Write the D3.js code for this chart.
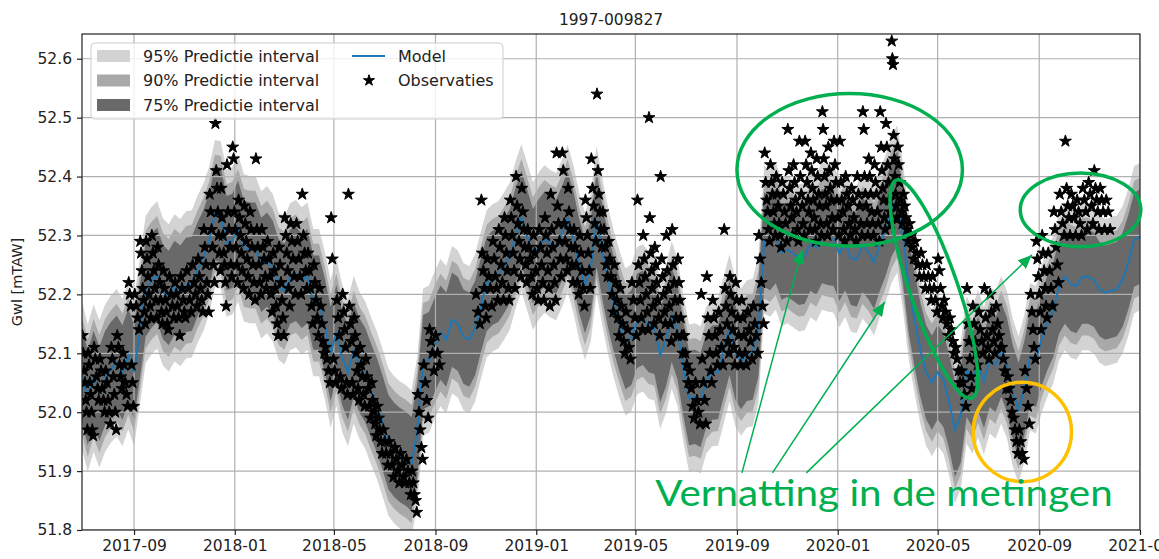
<!DOCTYPE html>
<html>
<head>
<meta charset="utf-8">
<script src="https://cdn.jsdelivr.net/npm/d3@7"></script>
<style>
  body { margin: 0; background: #fff; }
  svg { display: block; font-family: "DejaVu Sans", sans-serif; }
</style>
</head>
<body>
<svg id="chart"></svg>
<script>
// weekly series, first week starts on modelStart
const modelStart = '2017-06-30';
const stepDays = 7;

const modelValues = [
  52.063, 52.024, 52.058, 52.031, 52.058, 52.073, 52.084, 52.067, 52.096, 52.068,
  52.136, 52.208, 52.223, 52.233, 52.204, 52.194, 52.211, 52.203, 52.216, 52.218,
  52.243, 52.263, 52.292, 52.337, 52.335, 52.287, 52.291, 52.313, 52.279, 52.276,
  52.276, 52.250, 52.259, 52.245, 52.214, 52.206, 52.230, 52.235, 52.223, 52.231,
  52.186, 52.186, 52.147, 52.099, 52.136, 52.092, 52.067, 52.106, 52.079, 52.063,
  52.036, 52.012, 51.982, 51.949, 51.936, 51.927, 51.921, 51.912, 51.970, 52.085,
  52.090, 52.114, 52.135, 52.123, 52.157, 52.150, 52.128, 52.123, 52.143, 52.182,
  52.218, 52.228, 52.233, 52.248, 52.265, 52.301, 52.330, 52.298, 52.265, 52.282,
  52.294, 52.286, 52.281, 52.303, 52.329, 52.294, 52.248, 52.214, 52.245, 52.327,
  52.272, 52.223, 52.182, 52.148, 52.119, 52.126, 52.155, 52.160, 52.148, 52.145,
  52.097, 52.123, 52.165, 52.136, 52.075, 52.024, 52.026, 52.021, 52.055, 52.067,
  52.068, 52.106, 52.143, 52.101, 52.085, 52.099, 52.101, 52.140, 52.293, 52.287,
  52.299, 52.271, 52.276, 52.269, 52.262, 52.264, 52.286, 52.279, 52.299, 52.296,
  52.294, 52.269, 52.287, 52.262, 52.259, 52.284, 52.272, 52.255, 52.286, 52.311,
  52.344, 52.362, 52.299, 52.214, 52.157, 52.106, 52.068, 52.050, 52.068, 52.055,
  52.017, 51.970, 51.995, 52.072, 52.055, 52.082, 52.053, 52.089, 52.080, 52.106,
  52.080, 52.033, 52.004, 52.041, 52.094, 52.089, 52.125, 52.152, 52.174, 52.213,
  52.230, 52.218, 52.214, 52.230, 52.230, 52.225, 52.209, 52.203, 52.206, 52.209,
  52.225, 52.255, 52.293, 52.298
];

// observations per week (same weeks as the model)
const obsValues = [
  [52.13, 52.1, 52.07, 52.05, 52.02, 52.0, 51.97], [52.1, 52.08, 52.05, 52.03, 52.0, 51.97, 51.96],
  [52.11, 52.09, 52.06, 52.04, 52.02], [52.09, 52.07, 52.04, 52.02, 52.0],
  [52.07, 52.05, 52.02, 52.0, 51.98], [52.11, 52.09, 52.06, 52.03, 52.0, 51.97],
  [52.13, 52.11, 52.08, 52.06, 52.04], [52.1, 52.08, 52.05, 52.03, 52.01],
  [52.22, 52.2, 52.18, 52.08, 52.05, 52.01], [52.2, 52.18, 52.16, 52.14],
  [52.29, 52.27, 52.24, 52.21, 52.19, 52.17, 52.15], [52.29, 52.26, 52.23, 52.2, 52.18, 52.16],
  [52.3, 52.27, 52.24, 52.21, 52.19, 52.16], [52.28, 52.25, 52.22, 52.19, 52.17, 52.15],
  [52.24, 52.21, 52.19, 52.17, 52.15, 52.14], [52.23, 52.2, 52.18, 52.16],
  [52.22, 52.2, 52.18, 52.16, 52.13], [52.23, 52.21, 52.19, 52.17, 52.16],
  [52.24, 52.21, 52.19, 52.17], [52.25, 52.22, 52.2, 52.18],
  [52.26, 52.23, 52.21, 52.19, 52.17], [52.31, 52.28, 52.25, 52.22, 52.2, 52.17],
  [52.37, 52.34, 52.31, 52.28, 52.25, 52.22], [52.49, 52.41, 52.38, 52.34, 52.3, 52.27, 52.24],
  [52.38, 52.33, 52.3, 52.27, 52.25, 52.22, 52.18], [52.42, 52.34, 52.31, 52.28, 52.25, 52.23],
  [52.45, 52.43, 52.34, 52.31, 52.28, 52.25, 52.22], [52.36, 52.33, 52.3, 52.27, 52.24, 52.21],
  [52.35, 52.32, 52.29, 52.26, 52.23, 52.2], [52.34, 52.31, 52.28, 52.25, 52.22, 52.19],
  [52.43, 52.31, 52.28, 52.25, 52.22, 52.2], [52.31, 52.28, 52.26, 52.23, 52.21],
  [52.29, 52.26, 52.23, 52.2, 52.17], [52.27, 52.24, 52.21, 52.18, 52.15, 52.13],
  [52.28, 52.25, 52.22, 52.19, 52.16, 52.13], [52.33, 52.3, 52.27, 52.24, 52.21, 52.18],
  [52.32, 52.29, 52.26, 52.23, 52.2], [52.32, 52.29, 52.26, 52.23, 52.2],
  [52.37, 52.3, 52.27, 52.24, 52.21], [52.27, 52.24, 52.21, 52.18, 52.15],
  [52.25, 52.22, 52.19, 52.16, 52.13], [52.21, 52.18, 52.15, 52.12, 52.1],
  [52.11, 52.09, 52.07, 52.05], [52.33, 52.26, 52.09, 52.07, 52.05],
  [52.19, 52.16, 52.13, 52.06, 52.04], [52.2, 52.17, 52.14, 52.11, 52.05, 52.03],
  [52.37, 52.18, 52.15, 52.12, 52.05, 52.03], [52.16, 52.13, 52.1, 52.07, 52.04, 52.02],
  [52.11, 52.08, 52.06, 52.03, 52.01], [52.09, 52.06, 52.04, 52.01, 51.99],
  [52.05, 52.02, 52.0, 51.98, 51.96], [52.01, 51.99, 51.97, 51.95, 51.93],
  [51.97, 51.95, 51.93, 51.91], [51.95, 51.93, 51.91, 51.89],
  [51.94, 51.92, 51.9, 51.88], [51.93, 51.91, 51.89, 51.88],
  [51.92, 51.9, 51.88, 51.86], [51.9, 51.88, 51.86, 51.85, 51.83],
  [52.03, 52.0, 51.97, 51.94, 51.92], [52.08, 52.05, 52.02, 51.99],
  [52.14, 52.12, 52.1, 52.07], [52.13, 52.1, 52.08],
  [], [], [], [], [], [],
  [52.2, 52.17, 52.15], [52.36, 52.27, 52.24, 52.21, 52.18, 52.16],
  [52.26, 52.23, 52.21, 52.18], [52.29, 52.26, 52.23, 52.21, 52.19],
  [52.31, 52.28, 52.25, 52.22, 52.19], [52.33, 52.3, 52.27, 52.24, 52.21, 52.19],
  [52.36, 52.33, 52.3, 52.27, 52.24, 52.21], [52.4, 52.35, 52.32, 52.29, 52.26, 52.23],
  [52.38, 52.34, 52.31, 52.28, 52.25, 52.22], [52.31, 52.28, 52.26, 52.23, 52.2],
  [52.3, 52.27, 52.24, 52.21, 52.19], [52.31, 52.28, 52.25, 52.22, 52.19],
  [52.33, 52.3, 52.27, 52.24, 52.21, 52.18], [52.37, 52.31, 52.28, 52.25, 52.22, 52.19],
  [52.44, 52.35, 52.32, 52.29, 52.26, 52.23], [52.44, 52.41, 52.32, 52.29, 52.26, 52.24],
  [52.38, 52.34, 52.31, 52.28, 52.25, 52.22], [52.31, 52.28, 52.25, 52.22, 52.2],
  [52.3, 52.27, 52.24, 52.21, 52.18], [52.36, 52.33, 52.3, 52.27, 52.24, 52.21],
  [52.43, 52.38, 52.35, 52.32, 52.29], [52.54, 52.41, 52.37, 52.34, 52.31, 52.28],
  [52.34, 52.31, 52.28, 52.25, 52.23], [52.29, 52.26, 52.23, 52.2, 52.17],
  [52.25, 52.22, 52.19, 52.16, 52.13], [52.21, 52.18, 52.15, 52.12, 52.1],
  [52.17, 52.14, 52.11, 52.09], [52.22, 52.19, 52.16, 52.13],
  [52.36, 52.25, 52.22, 52.19, 52.16, 52.14], [52.3, 52.26, 52.23, 52.2, 52.17, 52.14],
  [52.5, 52.33, 52.27, 52.24, 52.21, 52.18, 52.15], [52.28, 52.25, 52.22, 52.19, 52.16, 52.13],
  [52.4, 52.26, 52.23, 52.2, 52.17, 52.15], [52.3, 52.24, 52.21, 52.18, 52.15, 52.12],
  [52.31, 52.25, 52.22, 52.19, 52.16, 52.13], [52.26, 52.22, 52.19, 52.16, 52.13, 52.1],
  [52.13, 52.1, 52.08, 52.05], [52.07, 52.04, 52.01, 51.99],
  [52.05, 52.02, 52.0, 51.98], [52.2, 52.09, 52.05, 52.02, 51.98],
  [52.23, 52.16, 52.13, 52.1, 52.07, 52.05], [52.19, 52.16, 52.13, 52.1, 52.08],
  [52.17, 52.14, 52.11, 52.08], [52.31, 52.21, 52.18, 52.15, 52.12, 52.1],
  [52.23, 52.2, 52.17, 52.14, 52.11, 52.08], [52.22, 52.19, 52.16, 52.13, 52.1, 52.08],
  [52.19, 52.16, 52.13, 52.1, 52.08], [52.17, 52.14, 52.12, 52.09],
  [52.18, 52.15, 52.13, 52.1], [52.3, 52.26, 52.22, 52.18, 52.15],
  [52.44, 52.39, 52.36, 52.34, 52.31, 52.29], [52.42, 52.39, 52.37, 52.34, 52.32, 52.3],
  [52.4, 52.37, 52.35, 52.32, 52.3, 52.28], [52.39, 52.37, 52.34, 52.32, 52.29],
  [52.48, 52.41, 52.38, 52.35, 52.33, 52.3], [52.42, 52.39, 52.36, 52.34, 52.31, 52.29],
  [52.46, 52.4, 52.37, 52.35, 52.32, 52.3], [52.46, 52.42, 52.39, 52.36, 52.34, 52.31],
  [52.44, 52.41, 52.38, 52.36, 52.33, 52.31, 52.29], [52.43, 52.4, 52.37, 52.35, 52.32, 52.3],
  [52.51, 52.48, 52.43, 52.4, 52.37, 52.35, 52.32, 52.3], [52.45, 52.41, 52.38, 52.36, 52.33, 52.31],
  [52.46, 52.42, 52.39, 52.36, 52.33, 52.3], [52.46, 52.39, 52.36, 52.34, 52.31, 52.29],
  [52.4, 52.37, 52.35, 52.32, 52.3], [52.38, 52.36, 52.33, 52.31, 52.29],
  [52.4, 52.37, 52.35, 52.32, 52.3], [52.51, 52.48, 52.4, 52.37, 52.35, 52.32, 52.3],
  [52.43, 52.4, 52.37, 52.34, 52.32, 52.3], [52.42, 52.39, 52.37, 52.34, 52.32, 52.29],
  [52.51, 52.45, 52.41, 52.38, 52.36, 52.33, 52.31], [52.49, 52.45, 52.42, 52.39, 52.36, 52.34, 52.32],
  [52.63, 52.6, 52.59, 52.47, 52.43, 52.4, 52.37, 52.35, 52.33], [52.45, 52.42, 52.39, 52.36, 52.34, 52.32],
  [52.37, 52.35, 52.33, 52.31, 52.29], [52.32, 52.3, 52.28, 52.26],
  [52.29, 52.27, 52.25, 52.23], [52.27, 52.25, 52.23, 52.21],
  [52.25, 52.23, 52.21, 52.19], [52.23, 52.21, 52.19, 52.17],
  [52.26, 52.24, 52.21, 52.18, 52.16], [52.19, 52.17, 52.15, 52.13],
  [52.16, 52.14, 52.12, 52.1], [52.11, 52.09, 52.07, 52.05],
  [52.07, 52.05, 52.03, 52.01], [52.21, 52.15, 52.12, 52.09, 52.06, 52.04],
  [52.18, 52.15, 52.12, 52.1, 52.08], [52.17, 52.14, 52.12, 52.1],
  [52.21, 52.16, 52.13, 52.11, 52.09], [52.2, 52.17, 52.14, 52.12, 52.1],
  [52.18, 52.15, 52.13, 52.11], [52.11, 52.09, 52.07, 52.04],
  [52.06, 52.04, 52.02, 52.0], [51.99, 51.97, 51.95, 51.93],
  [51.97, 51.95, 51.93, 51.92], [52.07, 52.04, 52.01, 51.98],
  [52.2, 52.17, 52.14, 52.11, 52.09], [52.29, 52.26, 52.23, 52.2, 52.17, 52.14],
  [52.3, 52.27, 52.24, 52.21, 52.18, 52.16], [52.27, 52.24, 52.21, 52.18],
  [52.34, 52.31, 52.28, 52.25, 52.22], [52.37, 52.34, 52.32, 52.3],
  [52.46, 52.38, 52.35, 52.33, 52.3], [52.37, 52.35, 52.33, 52.3],
  [52.36, 52.34, 52.32, 52.3], [52.38, 52.36, 52.34, 52.31],
  [52.39, 52.37, 52.35, 52.32], [52.41, 52.38, 52.36, 52.34, 52.31],
  [52.38, 52.36, 52.34, 52.31], [52.36, 52.34, 52.31],
  [], [], [], [], [], []
];

// prediction intervals: half widths around the model
const bandNames = ['95% Predictie interval', '90% Predictie interval', '75% Predictie interval'];
const bandHalfWidths = [0.125, 0.1, 0.08];
const bandColors = ['#d3d3d3', '#a9a9a9', '#696969'];

const yTicks = [51.8, 51.9, 52.0, 52.1, 52.2, 52.3, 52.4, 52.5, 52.6];
const xDomain = ['2017-06-30', '2021-01-01'];
const yDomain = [51.8, 52.642];

const title = '1997-009827';
const yLabel = 'Gwl [mTAW]';

// annotations drawn over the chart (data coordinates)
const noteText = 'Vernatting in de metingen';
const noteEllipses = [
  { x0: '2019-09-01', x1: '2020-05-31', y0: 52.282, y1: 52.541, color: '#00b050' },
  { x0: '2020-08-09', x1: '2021-01-02', y0: 52.281, y1: 52.406, color: '#00b050' },
  { x0: '2020-06-13', x1: '2020-10-10', y0: 51.882, y1: 52.051, color: '#ffc000' }
];
const noteSlanted = { from: ['2020-03-12', 52.394], to: ['2020-06-11', 52.024] };
const noteArrows = [
  { from: ['2019-09-07', 51.897], to: ['2019-11-19', 52.276] },
  { from: ['2019-10-14', 51.897], to: ['2020-02-27', 52.187] },
  { from: ['2019-11-24', 51.897], to: ['2020-08-23', 52.267] }
];

const drawChart = () => {
  const width = 1159,
    height = 559,
    margin = { top: 34, right: 19, bottom: 29, left: 82 };
  const innerW = width - margin.left - margin.right,
    innerH = height - margin.top - margin.bottom;

  const parse = d3.utcParse('%Y-%m-%d');
  const t0 = parse(modelStart);
  const dayMs = 24 * 3600 * 1000;
  const weekDate = (i, frac) => new Date(t0.getTime() + (i + frac) * stepDays * dayMs);

  const model = modelValues.map((v, i) => ({ date: weekDate(i, 0), value: v }));
  const obs = [];
  obsValues.forEach((list, i) => {
    list.forEach((v, j) => {
      obs.push({ date: weekDate(i, (j + 0.5) / list.length), value: v });
    });
  });

  const svg = d3.select('#chart').attr('width', width).attr('height', height);

  const x = d3.scaleUtc().domain(xDomain.map(parse)).range([margin.left, margin.left + innerW]);
  const y = d3.scaleLinear().domain(yDomain).range([margin.top + innerH, margin.top]);

  svg.append('defs')
    .append('clipPath')
    .attr('id', 'plot-clip')
    .append('rect')
    .attr('x', margin.left)
    .attr('y', margin.top)
    .attr('width', innerW)
    .attr('height', innerH);

  const plot = svg.append('g').attr('clip-path', 'url(#plot-clip)');

  // bands
  bandHalfWidths.forEach((hw, k) => {
    const area = d3.area()
      .x((d) => x(d.date))
      .y0((d) => y(d.value - hw))
      .y1((d) => y(d.value + hw));
    plot.append('path')
      .datum(model)
      .attr('fill', bandColors[k])
      .attr('d', area);
  });

  // grid
  const xTicks = x.ticks(d3.utcMonth.every(4));
  plot.append('g')
    .selectAll('line')
    .data(xTicks)
    .enter()
    .append('line')
    .attr('x1', (d) => x(d)).attr('x2', (d) => x(d))
    .attr('y1', margin.top).attr('y2', margin.top + innerH)
    .attr('stroke', '#b0b0b0').attr('stroke-width', 1.2);
  plot.append('g')
    .selectAll('line')
    .data(yTicks)
    .enter()
    .append('line')
    .attr('y1', (d) => y(d)).attr('y2', (d) => y(d))
    .attr('x1', margin.left).attr('x2', margin.left + innerW)
    .attr('stroke', '#b0b0b0').attr('stroke-width', 1.2);

  // model line
  const line = d3.line().x((d) => x(d.date)).y((d) => y(d.value));
  plot.append('path')
    .datum(model)
    .attr('fill', 'none')
    .attr('stroke', '#1f77b4')
    .attr('stroke-width', 2)
    .attr('d', line);

  // observations
  const star = d3.symbol(d3.symbolStar, 44);
  plot.append('g')
    .selectAll('path')
    .data(obs)
    .enter()
    .append('path')
    .attr('transform', (d) => 'translate(' + x(d.date) + ',' + y(d.value) + ')')
    .attr('d', star)
    .attr('fill', '#000')
    .attr('stroke', '#000')
    .attr('stroke-width', 1)
    .attr('stroke-linejoin', 'round');

  // axes
  const xAxis = svg.append('g')
    .attr('transform', 'translate(0,' + (margin.top + innerH) + ')')
    .call(d3.axisBottom(x).tickValues(xTicks).tickFormat(d3.utcFormat('%Y-%m')).tickSize(5).tickPadding(5));
  const yAxis = svg.append('g')
    .attr('transform', 'translate(' + margin.left + ',0)')
    .call(d3.axisLeft(y).tickValues(yTicks).tickFormat(d3.format('.1f')).tickSize(5).tickPadding(5));
  [xAxis, yAxis].forEach((g) => {
    g.select('.domain').remove();
    g.selectAll('.tick line').attr('stroke', '#222').attr('stroke-width', 1.2);
    g.selectAll('.tick text').attr('fill', '#222').style('font-size', '15.5px').style('font-family', '"DejaVu Sans", sans-serif');
  });

  svg.append('rect')
    .attr('x', margin.left).attr('y', margin.top)
    .attr('width', innerW).attr('height', innerH)
    .attr('fill', 'none').attr('stroke', '#222').attr('stroke-width', 1.2);

  svg.append('text')
    .attr('x', margin.left + innerW / 2)
    .attr('y', 25)
    .attr('text-anchor', 'middle')
    .attr('fill', '#222')
    .style('font-size', '15.5px')
    .text(title);

  svg.append('text')
    .attr('transform', 'translate(22,' + (margin.top + innerH / 2) + ') rotate(-90)')
    .attr('text-anchor', 'middle')
    .attr('fill', '#222')
    .style('font-size', '14.5px')
    .text(yLabel);

  // legend
  const lg = svg.append('g');
  lg.append('rect')
    .attr('x', 91).attr('y', 43).attr('width', 412).attr('height', 76).attr('rx', 4)
    .attr('fill', '#fff').attr('fill-opacity', 0.8)
    .attr('stroke', '#cccccc');
  bandNames.forEach((name, k) => {
    const cy = 56 + k * 24.5;
    lg.append('rect')
      .attr('x', 97).attr('y', cy - 6).attr('width', 33).attr('height', 12)
      .attr('fill', bandColors[k]);
    lg.append('text')
      .attr('x', 143).attr('y', cy).attr('dy', '0.35em')
      .attr('fill', '#222').style('font-size', '16px')
      .text(name);
  });
  lg.append('line')
    .attr('x1', 352).attr('x2', 385).attr('y1', 56).attr('y2', 56)
    .attr('stroke', '#1f77b4').attr('stroke-width', 2);
  lg.append('text')
    .attr('x', 398).attr('y', 56).attr('dy', '0.35em')
    .attr('fill', '#222').style('font-size', '16px').text('Model');
  lg.append('path')
    .attr('transform', 'translate(369,80.5)')
    .attr('d', d3.symbol(d3.symbolStar, 38)).attr('fill', '#000').attr('stroke', '#000').attr('stroke-width', 1);
  lg.append('text')
    .attr('x', 398).attr('y', 80.5).attr('dy', '0.35em')
    .attr('fill', '#222').style('font-size', '16px').text('Observaties');

  // annotations
  const notes = svg.append('g');
  noteEllipses.forEach((e) => {
    const xa = x(parse(e.x0)), xb = x(parse(e.x1));
    const ya = y(e.y0), yb = y(e.y1);
    notes.append('ellipse')
      .attr('cx', (xa + xb) / 2).attr('cy', (ya + yb) / 2)
      .attr('rx', (xb - xa) / 2).attr('ry', Math.abs(ya - yb) / 2)
      .attr('fill', 'none').attr('stroke', e.color).attr('stroke-width', 3.5);
  });

  const sx1 = x(parse(noteSlanted.from[0])), sy1 = y(noteSlanted.from[1]);
  const sx2 = x(parse(noteSlanted.to[0])), sy2 = y(noteSlanted.to[1]);
  const len = Math.hypot(sx2 - sx1, sy2 - sy1);
  const ang = Math.atan2(sy2 - sy1, sx2 - sx1) * 180 / Math.PI;
  notes.append('ellipse')
    .attr('transform', 'translate(' + (sx1 + sx2) / 2 + ',' + (sy1 + sy2) / 2 + ') rotate(' + ang + ')')
    .attr('rx', len / 2).attr('ry', 24)
    .attr('fill', 'none').attr('stroke', '#00b050').attr('stroke-width', 3.5);

  svg.select('defs')
    .append('marker')
    .attr('id', 'arrow-head')
    .attr('viewBox', '0 0 14 12')
    .attr('refX', 14).attr('refY', 6)
    .attr('markerWidth', 14).attr('markerHeight', 12)
    .attr('markerUnits', 'userSpaceOnUse')
    .attr('orient', 'auto')
    .append('path')
    .attr('d', 'M0,0 L14,6 L0,12 Z')
    .attr('fill', '#00b050');

  noteArrows.forEach((a) => {
    notes.append('line')
      .attr('x1', x(parse(a.from[0]))).attr('y1', y(a.from[1]))
      .attr('x2', x(parse(a.to[0]))).attr('y2', y(a.to[1]))
      .attr('stroke', '#00b050').attr('stroke-width', 1.5)
      .attr('marker-end', 'url(#arrow-head)');
  });

  const textX0 = x(parse('2019-05-25')), textX1 = x(parse('2020-11-29'));
  notes.append('text')
    .attr('x', textX0).attr('y', y(51.841))
    .attr('textLength', textX1 - textX0)
    .attr('lengthAdjust', 'spacingAndGlyphs')
    .attr('fill', '#00b050')
    .style('font-family', 'Lato, "Open Sans", sans-serif')
    .style('font-size', '36px')
    .text(noteText);
};

drawChart();
</script>
</body>
</html>
